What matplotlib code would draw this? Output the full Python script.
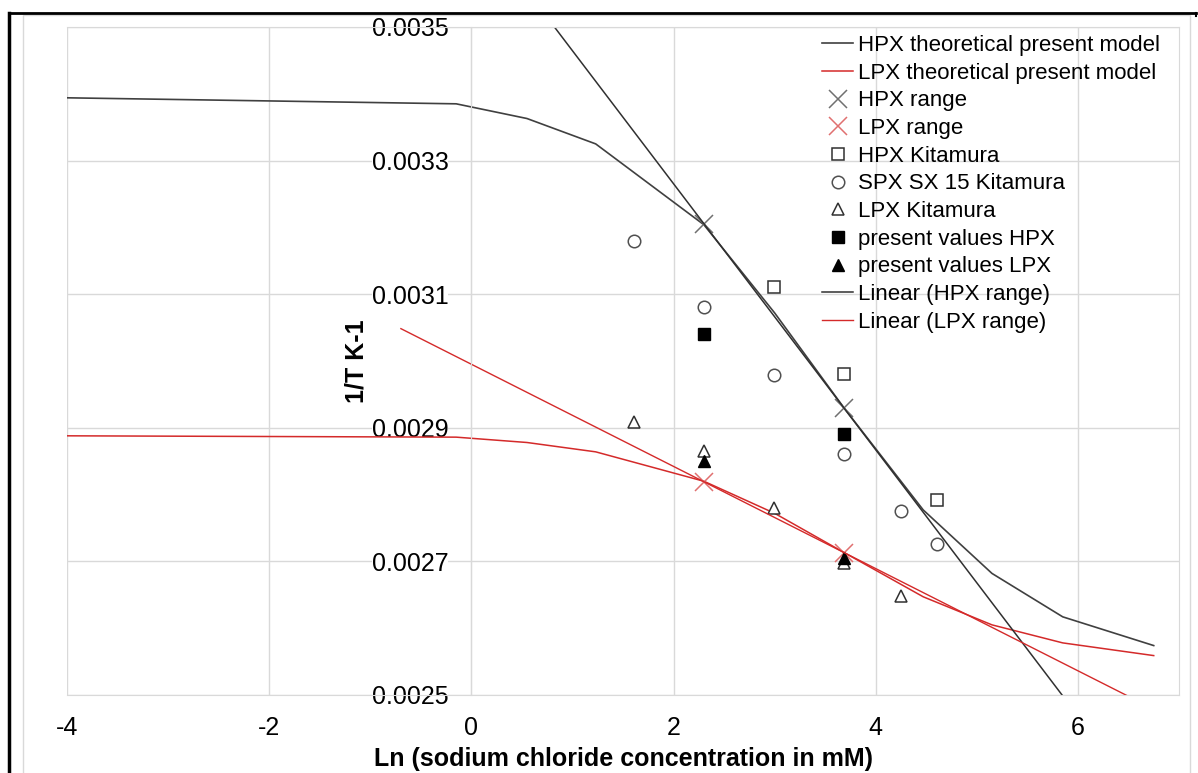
import numpy as np
import matplotlib
matplotlib.use("Agg")
import matplotlib.pyplot as plt
from matplotlib.lines import Line2D
from matplotlib.patches import Rectangle

plt.rcParams['font.family'] = ['Liberation Sans', 'DejaVu Sans']
plt.rcParams['axes.unicode_minus'] = False

# theoretical model curves (x = ln of NaCl concentration in mM)
theory_x = [-4.0, -0.15, 0.55, 1.23, 2.3, 3.0, 3.69, 4.47, 5.15, 5.85, 6.75]
hpx_theory = [0.003394, 0.003385, 0.003363, 0.003325, 0.003204, 0.003072,
              0.002929, 0.002777, 0.002682, 0.002617, 0.002574]
lpx_theory = [0.002888, 0.002886, 0.002878, 0.002864, 0.00282, 0.002772,
              0.002713, 0.002647, 0.002605, 0.002578, 0.002559]

# range points used for the linear trendlines
range_x = [2.303, 3.689]
hpx_range = [0.003205, 0.002929]
lpx_range = [0.002819, 0.002713]

# Kitamura data
hpx_kit_x = [2.996, 3.689, 4.605]
hpx_kit = [0.003111, 0.00298, 0.002792]
spx_kit_x = [1.609, 2.303, 2.996, 3.689, 4.248, 4.605]
spx_kit = [0.00318, 0.003081, 0.002979, 0.002861, 0.002776, 0.002726]
lpx_kit_x = [1.609, 2.303, 2.996, 3.689, 4.248]
lpx_kit = [0.002909, 0.002865, 0.00278, 0.002698, 0.002648]

# present measured values
present_x = [2.303, 3.689]
present_hpx = [0.00304, 0.00289]
present_lpx = [0.00285, 0.002705]

W, H = 1198, 773
fig = plt.figure(figsize=(W / 100, H / 100), dpi=100)


def fx(px):
    return px / W


def fy(py):
    return 1 - py / H


# chart frame (black border at top/left, light gray chart area border)
fig.add_artist(Rectangle((fx(23), fy(800)), fx(1190) - fx(23), fy(15) - fy(800),
                         transform=fig.transFigure, fill=False, edgecolor='#d9d9d9', lw=1))
fig.add_artist(Line2D([fx(9), fx(1196)], [fy(13), fy(13)], transform=fig.transFigure,
                      color='black', lw=2))
fig.add_artist(Line2D([fx(9), fx(9)], [fy(13), fy(773)], transform=fig.transFigure,
                      color='black', lw=2.5))
fig.add_artist(Line2D([fx(1196), fx(1196)], [fy(13), fy(16)], transform=fig.transFigure,
                      color='black', lw=1.5))

ax = fig.add_axes([fx(67), fy(695), fx(1179) - fx(67), fy(27) - fy(695)])
ax.set_xlim(-4, 7)
ax.set_ylim(0.0025, 0.0035)
ax.set_xticks([-4, -2, 0, 2, 4, 6])
ax.set_yticks([0.0025, 0.0027, 0.0029, 0.0031, 0.0033, 0.0035])
ax.set_yticklabels(['0.0025', '0.0027', '0.0029', '0.0031', '0.0033', '0.0035'])
ax.grid(True, color='#d9d9d9', lw=1)
ax.set_axisbelow(True)
for side in ['top', 'right', 'bottom']:
    ax.spines[side].set_color('#d9d9d9')
ax.spines['left'].set_position(('data', 0))
ax.spines['left'].set_color('#d9d9d9')
ax.tick_params(axis='both', length=0, labelsize=18)
ax.tick_params(axis='y', pad=16.5)
ax.tick_params(axis='x', pad=15)
# Excel draws the y labels on a white box over the gridlines
for lab in ax.get_yticklabels():
    lab.set_bbox(dict(facecolor='white', edgecolor='none', pad=0))

dark = '#404040'
red = '#d42a2a'

ax.plot(theory_x, hpx_theory, color=dark, lw=1.2, label='HPX theoretical present model')
ax.plot(theory_x, lpx_theory, color=red, lw=1.1, label='LPX theoretical present model')
ax.plot(range_x, hpx_range, 'x', color='#707070', ms=13, mew=1.1, label='HPX range')
ax.plot(range_x, lpx_range, 'x', color='#e07070', ms=13, mew=1.1, label='LPX range')
ax.plot(hpx_kit_x, hpx_kit, 's', mfc='white', mec='#303030', ms=9, mew=1.1, label='HPX Kitamura')
ax.plot(spx_kit_x, spx_kit, 'o', mfc='white', mec='#505050', ms=9, mew=1.1, label='SPX SX 15 Kitamura')
ax.plot(lpx_kit_x, lpx_kit, '^', mfc='white', mec='#303030', ms=9, mew=1.1, label='LPX Kitamura')
ax.plot(present_x, present_hpx, 's', color='black', ms=9, label='present values HPX')
ax.plot(present_x, present_lpx, '^', color='black', ms=9, label='present values LPX')

# linear trendlines through the range points, forecast 3 units both ways
trend_x = np.array([range_x[0] - 3, range_x[1] + 3])
ph = np.polyfit(range_x, hpx_range, 1)
pl = np.polyfit(range_x, lpx_range, 1)
ax.plot(trend_x, np.polyval(ph, trend_x), color='#303030', lw=1.1, label='Linear (HPX range)')
ax.plot(trend_x, np.polyval(pl, trend_x), color=red, lw=1.0, label='Linear (LPX range)')

ax.set_xlabel('Ln (sodium chloride concentration in mM)', fontsize=18, fontweight='bold')
ax.xaxis.set_label_coords(0.5, -0.078)
ax.set_ylabel('1/T K-1', fontsize=18, fontweight='bold')
ax.yaxis.set_label_coords(0.271, 0.5)

leg = ax.legend(loc='upper left', bbox_to_anchor=(fx(822), fy(35)), bbox_transform=fig.transFigure,
                frameon=False, fontsize=16, handlelength=1.4, handletextpad=0.2,
                labelspacing=0.3, borderpad=0, borderaxespad=0, markerscale=1.0)

fig.savefig('out.png', dpi=100)
